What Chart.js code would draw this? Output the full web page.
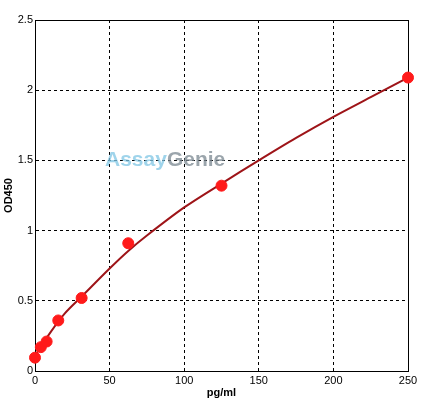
<!DOCTYPE html>
<html>
<head>
<meta charset="utf-8">
<script src="https://cdn.jsdelivr.net/npm/chart.js@4/dist/chart.umd.min.js"></script>
<style>
	html, body { margin: 0; padding: 0; background: #fff; }
	#wrap { width: 429px; height: 405px; }
</style>
</head>
<body>
<div id="wrap"><canvas id="od_chart"></canvas></div>
<script>
// Standards (pg/ml) and measured OD450.
const conc = [0, 3.9, 7.8, 15.6, 31.25, 62.5, 125, 250];
const od = [0.095, 0.17, 0.21, 0.36, 0.52, 0.91, 1.32, 2.09];

// Fitted curve.
const curveX = [0, 10, 20, 31.25, 50, 62.5, 75, 100, 125, 150, 175, 200, 225, 250];
const curveY = [0.11, 0.27, 0.41, 0.53, 0.73, 0.855, 0.965, 1.165, 1.335, 1.50, 1.66, 1.81, 1.95, 2.09];

const xTicks = [0, 50, 100, 150, 200, 250];
const yTicks = [0, 0.5, 1, 1.5, 2, 2.5];

const FONT = { family: '"Liberation Sans", Arial, sans-serif', size: 11 };
const TITLE_FONT = { family: '"Liberation Sans", Arial, sans-serif', size: 11, weight: 'bold' };

// Solid frame round the plot area.
const frame = {
	id: 'frame',
	beforeDatasetsDraw(chart) {
		const { ctx, chartArea: a } = chart;
		ctx.save();
		ctx.strokeStyle = '#000';
		ctx.lineWidth = 1;
		ctx.strokeRect(a.left + 0.5, a.top + 0.5, a.right - a.left, a.bottom - a.top);
		ctx.restore();
	}
};

// Faint brand watermark in the middle of the plot.
const watermark = {
	id: 'watermark',
	beforeDatasetsDraw(chart) {
		const { ctx } = chart;
		ctx.save();
		ctx.globalAlpha = 0.75;
		ctx.font = 'bold 21px "Liberation Sans", Arial, sans-serif';
		ctx.textBaseline = 'alphabetic';
		ctx.fillStyle = '#7fc6e4';
		ctx.fillText('Assay', 105, 166);
		const w = ctx.measureText('Assay').width;
		ctx.fillStyle = '#7a8790';
		ctx.fillText('Genie', 105 + w, 166);
		ctx.restore();
	}
};

function initChart() {
	const ctx = document.getElementById('od_chart').getContext('2d');
	new Chart(ctx, {
		type: 'scatter',
		data: {
			datasets: [{
				label: 'Standards',
				data: conc.map((x, i) => ({ x, y: od[i] })),
				backgroundColor: '#ff1a1a',
				borderColor: '#ff1a1a',
				pointRadius: 5.5,
				pointHoverRadius: 5.5,
				clip: false,
				order: 1
			}, {
				label: 'Fit',
				data: curveX.map((x, i) => ({ x, y: curveY[i] })),
				showLine: true,
				borderColor: '#9e1418',
				borderWidth: 2,
				pointRadius: 0,
				tension: 0.3,
				order: 2
			}]
		},
		options: {
			responsive: true,
			maintainAspectRatio: false,
			animation: false,
			layout: { padding: { top: 20, right: 21, left: 0, bottom: 0 } },
			plugins: {
				legend: { display: false },
				tooltip: { enabled: false }
			},
			scales: {
				x: {
					type: 'linear',
					min: 0,
					max: 250,
					afterBuildTicks: s => { s.ticks = xTicks.map(v => ({ value: v })); },
					afterFit: s => { s.height = 34; },
					grid: { color: '#000', lineWidth: 1, drawTicks: false },
					border: { color: '#000', dash: [3, 3] },
					ticks: { color: '#000', font: FONT, padding: 3, maxRotation: 0, callback: v => String(v) },
					title: { display: true, text: 'pg/ml', color: '#000', font: TITLE_FONT, padding: { top: 0, bottom: 5 } }
				},
				y: {
					min: 0,
					max: 2.5,
					afterBuildTicks: s => { s.ticks = yTicks.map(v => ({ value: v })); },
					afterFit: s => { s.width = 35; },
					grid: { color: '#000', lineWidth: 1, drawTicks: false },
					border: { color: '#000', dash: [3, 3] },
					ticks: { color: '#000', font: FONT, padding: 2, callback: v => String(v) },
					title: { display: true, text: 'OD450', color: '#000', font: TITLE_FONT, padding: { top: 2, bottom: 0 } }
				}
			}
		},
		plugins: [frame, watermark]
	});
}

document.addEventListener('DOMContentLoaded', initChart);
</script>
</body>
</html>
